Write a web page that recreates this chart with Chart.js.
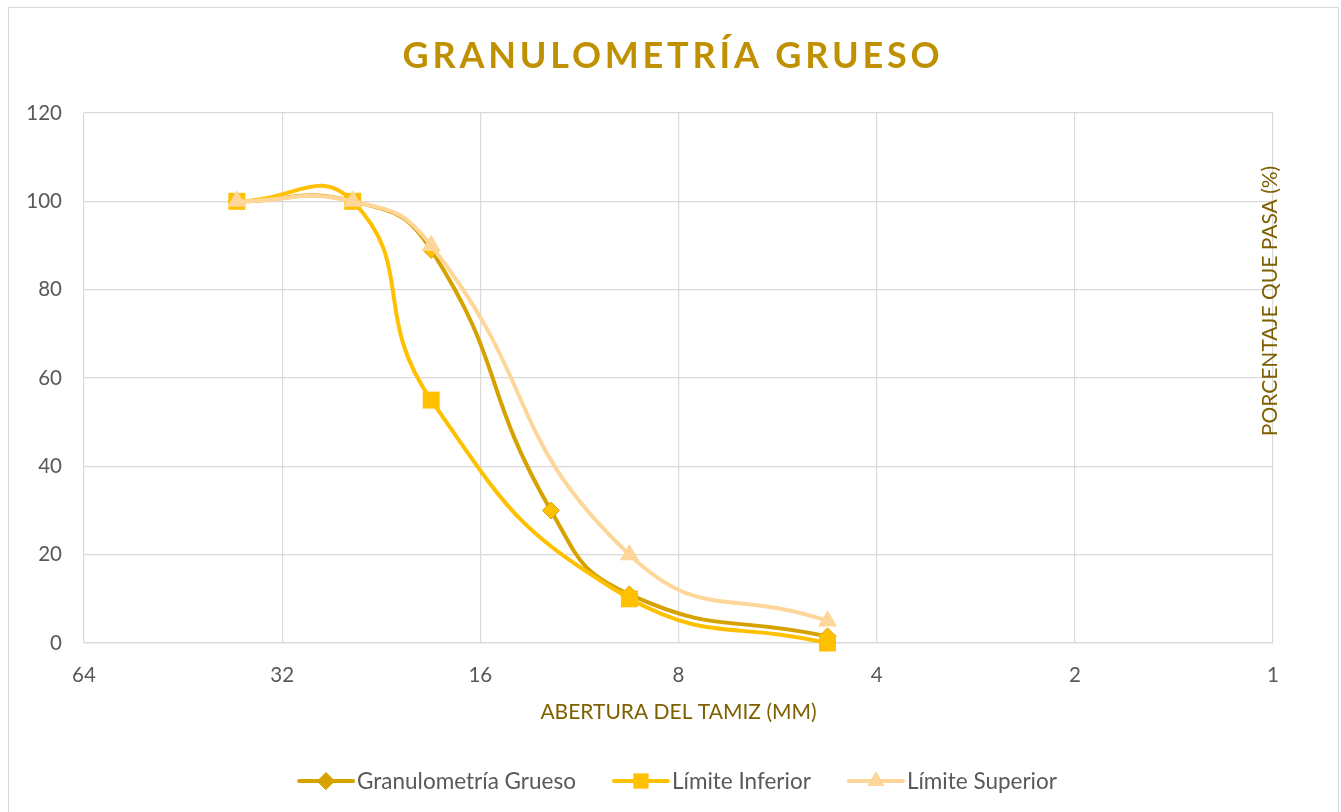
<!DOCTYPE html>
<html>
<head>
<meta charset="utf-8">
<title>Granulometría Grueso</title>
<script src="https://cdn.jsdelivr.net/npm/chart.js@4.4.1/dist/chart.umd.min.js"></script>
<style>
  html, body { margin: 0; padding: 0; background: #ffffff; }
  #wrap { position: relative; width: 1341px; height: 812px; overflow: hidden; }
  #c { position: absolute; left: 0; top: 0; }
  #frame {
    position: absolute; left: 8px; top: 7px; width: 1331px; height: 840px;
    border: 1px solid #d9d9d9; box-sizing: border-box; pointer-events: none;
  }
</style>
</head>
<body>
<div id="wrap">
  <canvas id="c" width="1341" height="812"></canvas>
  <div id="frame"></div>
</div>
<script>
// Sieve openings (mm) and percent passing for each curve
const sieveSizes          = [37.5, 25, 19, 12.5, 9.5, 4.75];
const granulometriaGrueso = [100, 100, 89, 30, 11, 1.5];
const limiteInferior      = [100, 100, 55, null, 10, 0];
const limiteSuperior      = [100, 100, 90, null, 20, 5];

// Axis ticks
const xTicks = [64, 32, 16, 8, 4, 2, 1];
const yTicks = [0, 20, 40, 60, 80, 100, 120];

const seriesNames = ['Granulometría Grueso', 'Límite Inferior', 'Límite Superior'];
const chartTitle = 'GRANULOMETRÍA GRUESO';
const xTitle = 'ABERTURA DEL TAMIZ (MM)';
const yTitle = 'PORCENTAJE QUE PASA (%)';

const FONT = 'Lato, "Open Sans", sans-serif';

function toPoints(values) {
  const pts = [];
  values.forEach((v, i) => { if (v !== null) pts.push({ x: sieveSizes[i], y: v }); });
  return pts;
}

const datasets = [
  {
    label: seriesNames[0],
    data: toPoints(granulometriaGrueso),
    borderColor: '#D6A200',
    backgroundColor: '#FFC000',
    pointStyle: 'rectRot',
    pointRadius: 8.5,
    pointBorderColor: '#D6A200',
    pointBorderWidth: 1,
    order: 2
  },
  {
    label: seriesNames[1],
    data: toPoints(limiteInferior),
    borderColor: '#FFC000',
    backgroundColor: '#FFC000',
    pointStyle: 'rect',
    pointRadius: 12,
    pointBorderColor: '#FFC000',
    pointBorderWidth: 0,
    order: 1
  },
  {
    label: seriesNames[2],
    data: toPoints(limiteSuperior),
    borderColor: '#FFD699',
    backgroundColor: '#FFD699',
    pointStyle: 'triangle',
    pointRadius: 11,
    pointBorderColor: '#FFD699',
    pointBorderWidth: 0,
    order: 0
  }
];

datasets.forEach(d => {
  d.borderWidth = 4;
  d.tension = 0.5;
  d.fill = false;
  d.pointHoverRadius = d.pointRadius;
  d.pointBackgroundColor = d.backgroundColor;
  d.clip = false;
});

// Title, right-hand vertical axis title and legend with line + marker samples
const decorPlugin = {
  id: 'decor',
  afterDraw(chart) {
    const ctx = chart.ctx;
    const area = chart.chartArea;

    // Chart title
    ctx.save();
    ctx.font = 'bold 36px ' + FONT;
    ctx.fillStyle = '#BF9000';
    ctx.textAlign = 'center';
    ctx.textBaseline = 'alphabetic';
    ctx.letterSpacing = '3.8px';
    ctx.fillText(chartTitle, 673, 68);
    ctx.restore();

    // Vertical axis title, rotated, just inside the right edge
    ctx.save();
    ctx.font = '21px ' + FONT;
    ctx.fillStyle = '#7F6000';
    ctx.translate(area.right - 3, 301);
    ctx.rotate(-Math.PI / 2);
    ctx.textAlign = 'center';
    ctx.textBaseline = 'middle';
    ctx.fillText(yTitle, 0, 0);
    ctx.restore();

    // Legend
    ctx.save();
    ctx.font = '22.5px ' + FONT;
    const lineW = 58, gapText = 2, gapItem = 36;
    const items = chart.data.datasets.map(d => ({ d, w: lineW + gapText + ctx.measureText(d.label).width }));
    const total = items.reduce((s, it) => s + it.w, 0) + gapItem * (items.length - 1);
    let x = 677 - total / 2;
    const y = 781;
    items.forEach(it => {
      const d = it.d;
      ctx.strokeStyle = d.borderColor;
      ctx.lineWidth = 4;
      ctx.lineCap = 'round';
      ctx.beginPath();
      ctx.moveTo(x + 2, y);
      ctx.lineTo(x + lineW - 2, y);
      ctx.stroke();
      ctx.fillStyle = d.pointStyle === 'rectRot' ? d.borderColor : d.pointBackgroundColor;
      ctx.strokeStyle = d.pointBorderColor;
      ctx.lineWidth = d.pointBorderWidth || 0;
      Chart.helpers.drawPoint(ctx, {
        pointStyle: d.pointStyle,
        radius: d.pointStyle === 'rectRot' ? 8.5 : d.pointRadius * 0.9,
        borderWidth: d.pointBorderWidth || 0,
        rotation: 0
      }, x + lineW / 2, y);
      ctx.fillStyle = '#595959';
      ctx.textAlign = 'left';
      ctx.textBaseline = 'middle';
      ctx.fillText(d.label, x + lineW + gapText, y + 1);
      x += it.w + gapItem;
    });
    ctx.restore();
  }
};

new Chart(document.getElementById('c'), {
  type: 'line',
  data: { datasets },
  options: {
    responsive: false,
    animation: false,
    devicePixelRatio: 1,
    layout: { padding: { top: 113, right: 68, left: 0, bottom: 0 } },
    plugins: {
      legend: { display: false },
      title: { display: false },
      tooltip: { enabled: false }
    },
    scales: {
      x: {
        type: 'logarithmic',
        min: 1,
        max: 64,
        reverse: true,
        afterBuildTicks: s => { s.ticks = xTicks.map(v => ({ value: v })); },
        afterFit: s => { s.height = 169; },
        ticks: {
          autoSkip: false,
          maxRotation: 0,
          color: '#595959',
          font: { family: FONT, size: 20.5 },
          padding: 20,
          callback: v => String(v)
        },
        grid: { color: '#d9d9d9', lineWidth: 1.2, drawTicks: false },
        border: { display: true, color: '#d9d9d9', width: 1.2 },
        title: {
          display: true,
          text: xTitle,
          color: '#7F6000',
          font: { family: FONT, size: 21 },
          padding: { top: 0, bottom: 87 }
        }
      },
      y: {
        type: 'linear',
        min: 0,
        max: 120,
        afterBuildTicks: s => { s.ticks = yTicks.map(v => ({ value: v })); },
        afterFit: s => { s.width = 84; },
        ticks: {
          color: '#595959',
          font: { family: FONT, size: 20.5 },
          padding: 22
        },
        grid: { color: '#d9d9d9', lineWidth: 1.2, drawTicks: false },
        border: { display: false }
      }
    }
  },
  plugins: [decorPlugin]
});
</script>
</body>
</html>
